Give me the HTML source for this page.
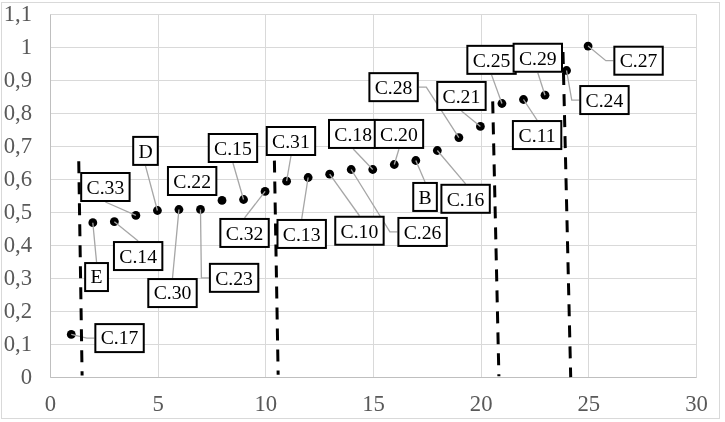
<!DOCTYPE html>
<html><head><meta charset="utf-8"><title>chart</title>
<style>
html,body{margin:0;padding:0;background:#fff;}
body{width:725px;height:422px;overflow:hidden;}
svg{display:block;will-change:transform;}
text{font-family:"Liberation Serif",serif;}
.ax{font-size:22.7px;fill:#595959;}
.lb{font-size:19.7px;fill:#000;text-anchor:middle;}
</style></head><body>
<svg width="725" height="422" viewBox="0 0 725 422">
<rect x="0" y="0" width="725" height="422" fill="#fff"/>
<rect x="1.5" y="2.5" width="718" height="416" fill="#fff" stroke="#d9d9d9" stroke-width="1"/>
<g stroke="#d9d9d9" stroke-width="1" fill="none">
<line x1="50.50" y1="377.50" x2="696.49" y2="377.50"/>
<line x1="50.50" y1="344.50" x2="696.49" y2="344.50"/>
<line x1="50.50" y1="311.50" x2="696.49" y2="311.50"/>
<line x1="50.50" y1="278.50" x2="696.49" y2="278.50"/>
<line x1="50.50" y1="245.50" x2="696.49" y2="245.50"/>
<line x1="50.50" y1="212.50" x2="696.49" y2="212.50"/>
<line x1="50.50" y1="179.50" x2="696.49" y2="179.50"/>
<line x1="50.50" y1="146.50" x2="696.49" y2="146.50"/>
<line x1="50.50" y1="113.50" x2="696.49" y2="113.50"/>
<line x1="50.50" y1="80.50" x2="696.49" y2="80.50"/>
<line x1="50.50" y1="47.50" x2="696.49" y2="47.50"/>
<line x1="50.50" y1="14.50" x2="696.49" y2="14.50"/>
<line x1="50.50" y1="14.50" x2="50.50" y2="377.50"/>
<line x1="158.50" y1="14.50" x2="158.50" y2="377.50"/>
<line x1="265.50" y1="14.50" x2="265.50" y2="377.50"/>
<line x1="373.50" y1="14.50" x2="373.50" y2="377.50"/>
<line x1="481.50" y1="14.50" x2="481.50" y2="377.50"/>
<line x1="588.50" y1="14.50" x2="588.50" y2="377.50"/>
<line x1="696.50" y1="14.50" x2="696.50" y2="377.50"/>
</g>
<line x1="50.50" y1="377.50" x2="696.49" y2="377.50" stroke="#bfbfbf" stroke-width="1"/>
<line x1="50.50" y1="14.50" x2="50.50" y2="377.50" stroke="#bfbfbf" stroke-width="1"/>
<text class="ax" x="32.0" y="384.10" text-anchor="end">0</text>
<text class="ax" x="32.0" y="351.10" text-anchor="end">0,1</text>
<text class="ax" x="32.0" y="318.10" text-anchor="end">0,2</text>
<text class="ax" x="32.0" y="285.10" text-anchor="end">0,3</text>
<text class="ax" x="32.0" y="252.10" text-anchor="end">0,4</text>
<text class="ax" x="32.0" y="219.10" text-anchor="end">0,5</text>
<text class="ax" x="32.0" y="186.10" text-anchor="end">0,6</text>
<text class="ax" x="32.0" y="153.10" text-anchor="end">0,7</text>
<text class="ax" x="32.0" y="120.10" text-anchor="end">0,8</text>
<text class="ax" x="32.0" y="87.10" text-anchor="end">0,9</text>
<text class="ax" x="32.0" y="54.10" text-anchor="end">1</text>
<text class="ax" x="32.0" y="21.10" text-anchor="end">1,1</text>
<text class="ax" x="50.50" y="411" text-anchor="middle">0</text>
<text class="ax" x="158.17" y="411" text-anchor="middle">5</text>
<text class="ax" x="265.83" y="411" text-anchor="middle">10</text>
<text class="ax" x="373.50" y="411" text-anchor="middle">15</text>
<text class="ax" x="481.16" y="411" text-anchor="middle">20</text>
<text class="ax" x="588.83" y="411" text-anchor="middle">25</text>
<text class="ax" x="696.49" y="411" text-anchor="middle">30</text>
<g fill="#000">
<circle cx="71.28" cy="334.40" r="4.4"/>
<circle cx="92.82" cy="222.70" r="4.4"/>
<circle cx="114.35" cy="221.70" r="4.4"/>
<circle cx="135.88" cy="215.40" r="4.4"/>
<circle cx="157.42" cy="210.50" r="4.4"/>
<circle cx="178.95" cy="209.50" r="4.4"/>
<circle cx="200.48" cy="209.40" r="4.4"/>
<circle cx="222.01" cy="200.40" r="4.4"/>
<circle cx="243.55" cy="199.50" r="4.4"/>
<circle cx="265.08" cy="191.40" r="4.4"/>
<circle cx="286.61" cy="181.20" r="4.4"/>
<circle cx="308.15" cy="177.50" r="4.4"/>
<circle cx="329.68" cy="174.20" r="4.4"/>
<circle cx="351.21" cy="169.50" r="4.4"/>
<circle cx="372.75" cy="169.50" r="4.4"/>
<circle cx="394.28" cy="164.50" r="4.4"/>
<circle cx="415.81" cy="160.50" r="4.4"/>
<circle cx="437.34" cy="150.50" r="4.4"/>
<circle cx="458.88" cy="137.60" r="4.4"/>
<circle cx="480.41" cy="126.40" r="4.4"/>
<circle cx="501.94" cy="103.50" r="4.4"/>
<circle cx="523.48" cy="99.50" r="4.4"/>
<circle cx="545.01" cy="95.20" r="4.4"/>
<circle cx="566.54" cy="70.50" r="4.4"/>
<circle cx="588.08" cy="46.10" r="4.4"/>
</g>
<g stroke="#a6a6a6" stroke-width="1.3" fill="none">
<polyline points="71.28,334.40 86.85,338.10 94.35,338.10"/>
<polyline points="92.82,222.70 96.55,262.05"/>
<polyline points="114.35,221.70 138.15,241.05"/>
<polyline points="135.88,215.40 105.40,202.00"/>
<polyline points="157.42,210.50 145.50,165.90"/>
<polyline points="178.95,209.50 172.50,278.05"/>
<polyline points="200.48,209.40 201.40,277.85 208.90,277.85"/>
<polyline points="243.55,199.50 232.95,163.00"/>
<polyline points="265.08,191.40 244.55,217.95"/>
<polyline points="286.61,181.20 290.95,156.00"/>
<polyline points="308.15,177.50 301.70,218.95"/>
<polyline points="329.68,174.20 359.45,215.75"/>
<polyline points="351.21,169.50 389.90,231.95 397.40,231.95"/>
<polyline points="372.75,169.50 353.20,148.95"/>
<polyline points="394.28,164.50 398.95,148.95"/>
<polyline points="415.81,160.50 425.05,181.95"/>
<polyline points="437.34,150.50 465.60,183.80"/>
<polyline points="458.88,137.60 426.30,87.15 418.80,87.15"/>
<polyline points="480.41,126.40 461.45,110.95"/>
<polyline points="501.94,103.50 491.55,74.85"/>
<polyline points="523.48,99.50 537.10,120.05"/>
<polyline points="545.01,95.20 537.80,72.75"/>
<polyline points="566.54,70.50 571.75,100.05 579.25,100.05"/>
<polyline points="588.08,46.10 605.85,60.70 613.35,60.70"/>
</g>
<g stroke="#000" stroke-width="3" fill="none">
<line x1="78.75" y1="161.30" x2="82.10" y2="375.40" stroke-dasharray="12 9.00"/>
<line x1="274.40" y1="160.60" x2="278.15" y2="374.70" stroke-dasharray="12 9.00"/>
<line x1="492.70" y1="101.40" x2="498.90" y2="376.30" stroke-dasharray="12 9.00"/>
<line x1="563.00" y1="52.05" x2="570.70" y2="377.10" stroke-dasharray="12 9.03"/>
</g>
<rect x="95.35" y="324.10" width="48.40" height="28.00" fill="#fff" stroke="#000" stroke-width="2"/><text class="lb" x="119.55" y="343.80">C.17</text>
<rect x="85.15" y="263.05" width="22.80" height="28.00" fill="#fff" stroke="#000" stroke-width="2"/><text class="lb" x="96.55" y="283.05">E</text>
<rect x="113.95" y="242.05" width="48.40" height="28.00" fill="#fff" stroke="#000" stroke-width="2"/><text class="lb" x="138.15" y="262.75">C.14</text>
<rect x="81.20" y="173.00" width="48.40" height="28.00" fill="#fff" stroke="#000" stroke-width="2"/><text class="lb" x="105.40" y="194.00">C.33</text>
<rect x="133.20" y="136.90" width="24.60" height="28.00" fill="#fff" stroke="#000" stroke-width="2"/><text class="lb" x="145.50" y="157.90">D</text>
<rect x="148.30" y="279.05" width="48.40" height="28.00" fill="#fff" stroke="#000" stroke-width="2"/><text class="lb" x="172.50" y="299.05">C.30</text>
<rect x="209.90" y="263.85" width="48.40" height="28.00" fill="#fff" stroke="#000" stroke-width="2"/><text class="lb" x="234.10" y="284.85">C.23</text>
<rect x="167.95" y="167.00" width="48.40" height="28.00" fill="#fff" stroke="#000" stroke-width="2"/><text class="lb" x="192.15" y="188.00">C.22</text>
<rect x="208.75" y="134.00" width="48.40" height="28.00" fill="#fff" stroke="#000" stroke-width="2"/><text class="lb" x="232.95" y="155.00">C.15</text>
<rect x="220.35" y="218.95" width="48.40" height="28.00" fill="#fff" stroke="#000" stroke-width="2"/><text class="lb" x="244.55" y="239.95">C.32</text>
<rect x="266.75" y="127.00" width="48.40" height="28.00" fill="#fff" stroke="#000" stroke-width="2"/><text class="lb" x="290.95" y="148.00">C.31</text>
<rect x="277.50" y="219.95" width="48.40" height="28.00" fill="#fff" stroke="#000" stroke-width="2"/><text class="lb" x="301.70" y="240.95">C.13</text>
<rect x="335.25" y="216.75" width="48.40" height="28.00" fill="#fff" stroke="#000" stroke-width="2"/><text class="lb" x="359.45" y="237.75">C.10</text>
<rect x="398.40" y="217.95" width="48.40" height="28.00" fill="#fff" stroke="#000" stroke-width="2"/><text class="lb" x="422.60" y="238.95">C.26</text>
<rect x="329.00" y="119.95" width="48.40" height="28.00" fill="#fff" stroke="#000" stroke-width="2"/><text class="lb" x="353.20" y="140.95">C.18</text>
<rect x="374.75" y="119.95" width="48.40" height="28.00" fill="#fff" stroke="#000" stroke-width="2"/><text class="lb" x="398.95" y="140.95">C.20</text>
<rect x="413.25" y="182.95" width="23.60" height="28.00" fill="#fff" stroke="#000" stroke-width="2"/><text class="lb" x="425.05" y="203.95">B</text>
<rect x="441.40" y="184.80" width="48.40" height="28.00" fill="#fff" stroke="#000" stroke-width="2"/><text class="lb" x="465.60" y="205.80">C.16</text>
<rect x="369.40" y="73.15" width="48.40" height="28.00" fill="#fff" stroke="#000" stroke-width="2"/><text class="lb" x="393.60" y="94.15">C.28</text>
<rect x="437.25" y="81.95" width="48.40" height="28.00" fill="#fff" stroke="#000" stroke-width="2"/><text class="lb" x="461.45" y="102.95">C.21</text>
<rect x="467.35" y="45.85" width="48.40" height="28.00" fill="#fff" stroke="#000" stroke-width="2"/><text class="lb" x="491.55" y="66.85">C.25</text>
<rect x="512.90" y="121.05" width="48.40" height="28.00" fill="#fff" stroke="#000" stroke-width="2"/><text class="lb" x="537.10" y="142.05">C.11</text>
<rect x="513.60" y="43.75" width="48.40" height="28.00" fill="#fff" stroke="#000" stroke-width="2"/><text class="lb" x="537.80" y="64.75">C.29</text>
<rect x="580.25" y="86.05" width="48.40" height="28.00" fill="#fff" stroke="#000" stroke-width="2"/><text class="lb" x="604.45" y="107.05">C.24</text>
<rect x="614.35" y="46.70" width="48.40" height="28.00" fill="#fff" stroke="#000" stroke-width="2"/><text class="lb" x="638.55" y="66.90">C.27</text>
</svg>
</body></html>
